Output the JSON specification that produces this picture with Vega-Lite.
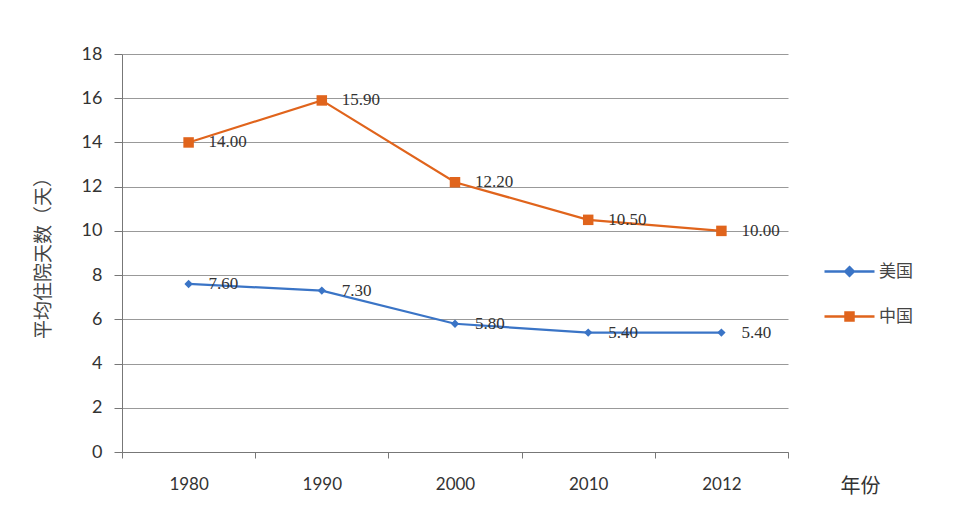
{
  "$schema": "https://vega.github.io/schema/vega-lite/v6.json",
  "autosize": "none",
  "width": 666,
  "height": 398,
  "padding": {"left": 122, "top": 54, "right": 172, "bottom": 69},
  "background": "white",
  "data": {"values": [
    {"year": "1980", "country": "美国", "days": 7.6},
    {"year": "1990", "country": "美国", "days": 7.3},
    {"year": "2000", "country": "美国", "days": 5.8},
    {"year": "2010", "country": "美国", "days": 5.4},
    {"year": "2012", "country": "美国", "days": 5.4},
    {"year": "1980", "country": "中国", "days": 14.0},
    {"year": "1990", "country": "中国", "days": 15.9},
    {"year": "2000", "country": "中国", "days": 12.2},
    {"year": "2010", "country": "中国", "days": 10.5},
    {"year": "2012", "country": "中国", "days": 10.0}
  ]},
  "config": {
    "view": {"stroke": null},
    "font": "Lato"
  },
  "encoding": {
    "x": {
      "field": "year", "type": "ordinal",
      "scale": {"type": "band", "paddingInner": 0, "paddingOuter": 0},
      "axis": {
        "title": "年份", "titleFont": "Noto Sans CJK SC", "titleFontSize": 20, "titleFontWeight": "normal", "titleColor": "#333",
        "titleX": 718, "titleY": 34, "titleAlign": "left", "titleBaseline": "middle",
        "labelAngle": 0, "labelFontSize": 17, "labelColor": "#333", "labelPadding": 18,
        "tickBand": "extent", "tickSize": 6, "tickColor": "#777", "domainColor": "#777", "grid": false
      }
    },
    "y": {
      "field": "days", "type": "quantitative",
      "scale": {"domain": [0, 18]},
      "axis": {
        "title": "平均住院天数（天）", "titleFont": "Noto Sans CJK SC", "titleFontSize": 19, "titleFontWeight": "normal", "titleColor": "#444",
        "titlePadding": 28,
        "values": [0, 2, 4, 6, 8, 10, 12, 14, 16, 18],
        "labelFontSize": 18, "labelColor": "#333", "labelPadding": 12,
        "tickSize": 8, "tickColor": "#777", "domainColor": "#777",
        "gridColor": "#999", "gridWidth": 1
      }
    },
    "color": {
      "field": "country", "type": "nominal",
      "scale": {"domain": ["美国", "中国"], "range": ["#3a74c6", "#e0641c"]},
      "legend": {
        "title": null, "orient": "none", "legendX": 701, "legendY": 191, "padding": 0,
        "labelFont": "Noto Sans CJK SC", "labelFontSize": 17, "labelColor": "#444", "labelOffset": 3,
        "symbolSize": 2500, "symbolStrokeWidth": 2.5, "rowPadding": 9,
        "encode": {
          "symbols": {
            "update": {
              "shape": {"signal": "datum.value === '美国' ? 'M-1,0L1,0M0,-0.17L0.17,0L0,0.17L-0.17,0Z' : 'M-1,0L1,0M-0.16,-0.16L0.16,-0.16L0.16,0.16L-0.16,0.16Z'"},
              "fill": {"signal": "datum.value === '美国' ? '#3a74c6' : '#e0641c'"},
              "stroke": {"signal": "datum.value === '美国' ? '#3a74c6' : '#e0641c'"},
              "size": {"value": 2500},
              "strokeWidth": {"value": 2.5}
            }
          }
        }
      }
    }
  },
  "layer": [
    {
      "mark": {"type": "line", "strokeWidth": 2.2},
      "encoding": {}
    },
    {
      "transform": [{"filter": "datum.country === '美国'"}],
      "mark": {"type": "point", "filled": true, "opacity": 1, "shape": "diamond", "size": 70},
      "encoding": {}
    },
    {
      "transform": [{"filter": "datum.country === '中国'"}],
      "mark": {"type": "point", "filled": true, "opacity": 1, "shape": "square", "size": 110},
      "encoding": {}
    },
    {
      "mark": {"type": "text", "align": "left", "baseline": "middle", "dx": 20, "fontSize": 17, "font": "Liberation Serif", "color": "#333"},
      "encoding": {
        "text": {"field": "days", "type": "quantitative", "format": ".2f"},
        "color": {"value": "#333"}
      }
    }
  ]
}
